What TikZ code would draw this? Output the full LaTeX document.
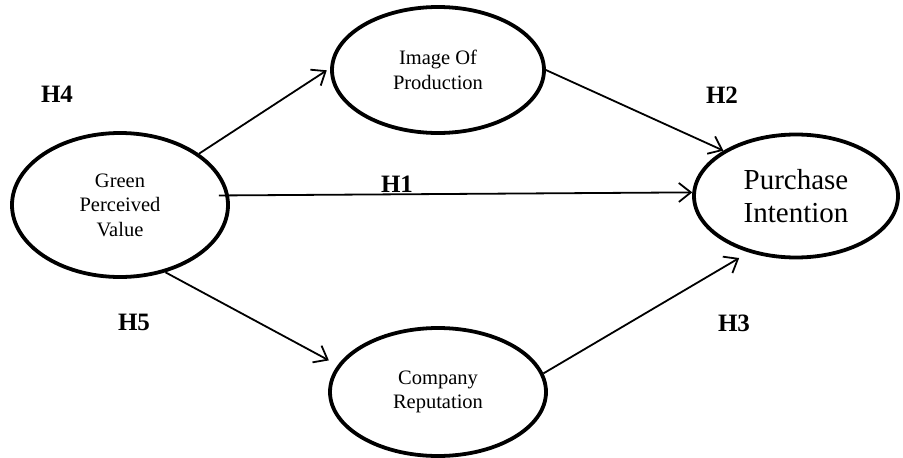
\documentclass[tikz,border=0pt]{standalone}
\usepackage{fontspec}
\setmainfont{Liberation Serif}
\usetikzlibrary{arrows.meta,shapes.geometric}
\begin{document}
\begin{tikzpicture}[x=1pt,y=-1pt,
  construct/.style={draw,ellipse,line width=3.8pt,inner sep=0pt,align=center,
    font=\fontsize{20.5}{24.5}\selectfont},
  conn/.style={line width=1.8pt,-{Straight Barb[length=12pt,width=19pt,line width=1.8pt]}},
  hyp/.style={font=\fontsize{25}{28}\selectfont\bfseries,inner sep=0pt}]
\useasboundingbox (0,0) rectangle (903,458);
\node[construct,minimum width=216pt,minimum height=144pt] (gpv) at (120,205) {Green\\Perceived\\Value};
\node[construct,minimum width=212pt,minimum height=126pt] (iop) at (438,70) {Image Of\\Production};
\node[construct,minimum width=216pt,minimum height=128pt] (cr) at (438,392) {Company\\Reputation};
\node[construct,minimum width=204pt,minimum height=123pt,font=\fontsize{29}{33}\selectfont] (pi) at (796,196) {Purchase\\Intention};
\draw[conn,shorten >=4pt] (gpv.33) -- (iop.179);
\draw[conn] ([xshift=-10pt]gpv.5) -- (pi.178);
\draw[conn,shorten >=10pt] (gpv.-56) -- (cr.165);
\draw[conn] (iop.0) -- (pi.148);
\draw[conn,shorten >=11pt] (cr.10) -- (pi.-130);
\node[hyp] (h4) at (57,94) {H4};
\node[hyp] (h1) at (397,184) {H1};
\node[hyp] (h2) at (722,95) {H2};
\node[hyp] (h5) at (134,322) {H5};
\node[hyp] (h3) at (734,323) {H3};
\end{tikzpicture}
\end{document}
